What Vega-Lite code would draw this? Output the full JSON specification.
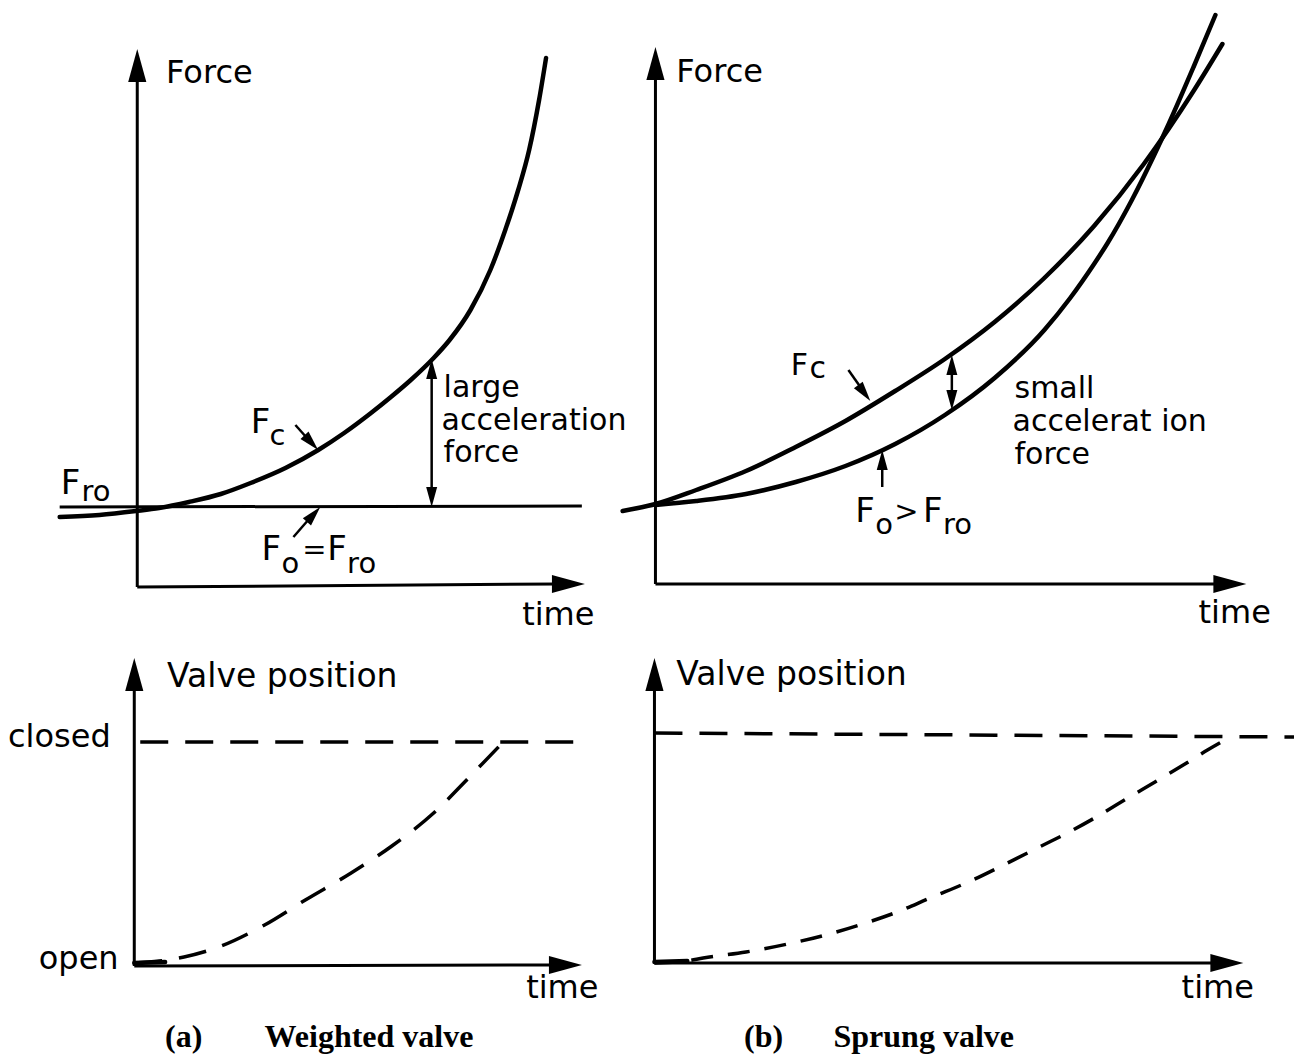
{
  "$schema": "https://vega.github.io/schema/vega-lite/v6.json",
  "width": 1301,
  "height": 1056,
  "autosize": {"type": "fit", "contains": "padding"},
  "padding": 0,
  "background": "white",
  "config": {"view": {"stroke": null}},
  "datasets": {
    "axes": [
      {"id": "ay1", "x": 138, "y": 62}, {"id": "ay1", "x": 138, "y": 587},
      {"id": "ax1", "x": 138, "y": 587}, {"id": "ax1", "x": 560, "y": 584},
      {"id": "by1", "x": 659, "y": 60}, {"id": "by1", "x": 659, "y": 584},
      {"id": "bx1", "x": 659, "y": 584}, {"id": "bx1", "x": 1225, "y": 584},
      {"id": "ay2", "x": 135, "y": 672}, {"id": "ay2", "x": 135, "y": 966},
      {"id": "ax2", "x": 135, "y": 966}, {"id": "ax2", "x": 560, "y": 965},
      {"id": "by2", "x": 658, "y": 672}, {"id": "by2", "x": 658, "y": 963},
      {"id": "bx2", "x": 658, "y": 963}, {"id": "bx2", "x": 1225, "y": 963},
      {"id": "fo", "x": 60, "y": 507}, {"id": "fo", "x": 585, "y": 506}
    ],
    "curves": [
      {"id": "fcA", "x": 60, "y": 517}, {"id": "fcA", "x": 100, "y": 515}, {"id": "fcA", "x": 137, "y": 511},
      {"id": "fcA", "x": 160, "y": 508}, {"id": "fcA", "x": 190, "y": 502}, {"id": "fcA", "x": 222, "y": 494},
      {"id": "fcA", "x": 252, "y": 483}, {"id": "fcA", "x": 287, "y": 468}, {"id": "fcA", "x": 320, "y": 450},
      {"id": "fcA", "x": 346, "y": 433}, {"id": "fcA", "x": 373, "y": 413}, {"id": "fcA", "x": 393, "y": 397},
      {"id": "fcA", "x": 413, "y": 380}, {"id": "fcA", "x": 436, "y": 358},
      {"id": "fcA", "x": 452, "y": 340}, {"id": "fcA", "x": 473, "y": 310}, {"id": "fcA", "x": 493, "y": 270},
      {"id": "fcA", "x": 508, "y": 230}, {"id": "fcA", "x": 521, "y": 190}, {"id": "fcA", "x": 532, "y": 150},
      {"id": "fcA", "x": 542, "y": 100}, {"id": "fcA", "x": 549, "y": 58},
      {"id": "fcB", "x": 626, "y": 511}, {"id": "fcB", "x": 659, "y": 504}, {"id": "fcB", "x": 700, "y": 490},
      {"id": "fcB", "x": 750, "y": 471}, {"id": "fcB", "x": 800, "y": 447}, {"id": "fcB", "x": 850, "y": 421},
      {"id": "fcB", "x": 900, "y": 391}, {"id": "fcB", "x": 950, "y": 359}, {"id": "fcB", "x": 1000, "y": 322},
      {"id": "fcB", "x": 1050, "y": 278}, {"id": "fcB", "x": 1100, "y": 226}, {"id": "fcB", "x": 1150, "y": 164},
      {"id": "fcB", "x": 1200, "y": 91}, {"id": "fcB", "x": 1229, "y": 44},
      {"id": "foB", "x": 659, "y": 505}, {"id": "foB", "x": 700, "y": 501}, {"id": "foB", "x": 750, "y": 494},
      {"id": "foB", "x": 800, "y": 482}, {"id": "foB", "x": 850, "y": 466}, {"id": "foB", "x": 900, "y": 444},
      {"id": "foB", "x": 950, "y": 415}, {"id": "foB", "x": 1000, "y": 378}, {"id": "foB", "x": 1050, "y": 330},
      {"id": "foB", "x": 1076, "y": 298}, {"id": "foB", "x": 1100, "y": 264}, {"id": "foB", "x": 1113, "y": 244},
      {"id": "foB", "x": 1138, "y": 200}, {"id": "foB", "x": 1160, "y": 156}, {"id": "foB", "x": 1175, "y": 124},
      {"id": "foB", "x": 1200, "y": 67}, {"id": "foB", "x": 1222, "y": 15},
      {"id": "oa", "x": 135, "y": 963}, {"id": "oa", "x": 166, "y": 962},
      {"id": "ob", "x": 658, "y": 962}, {"id": "ob", "x": 691, "y": 961}
    ],
    "thin": [
      {"id": "dA", "x": 434, "y": 372}, {"id": "dA", "x": 434, "y": 494},
      {"id": "dB", "x": 957, "y": 368}, {"id": "dB", "x": 957, "y": 398},
      {"id": "fcAa", "x": 297, "y": 425}, {"id": "fcAa", "x": 314, "y": 444},
      {"id": "foAa", "x": 295, "y": 537}, {"id": "foAa", "x": 316, "y": 513},
      {"id": "fcBa", "x": 853, "y": 370}, {"id": "fcBa", "x": 870, "y": 394},
      {"id": "foBa", "x": 887, "y": 487}, {"id": "foBa", "x": 887, "y": 458}
    ],
    "dashA": [
      {"id": "clA", "x": 141, "y": 742}, {"id": "clA", "x": 580, "y": 742},
      {"id": "clB", "x": 658, "y": 733}, {"id": "clB", "x": 1301, "y": 737},
      {"id": "cvA", "x": 135, "y": 963}, {"id": "cvA", "x": 160, "y": 961}, {"id": "cvA", "x": 185, "y": 957},
      {"id": "cvA", "x": 220, "y": 947}, {"id": "cvA", "x": 266, "y": 925}, {"id": "cvA", "x": 307, "y": 900},
      {"id": "cvA", "x": 353, "y": 873}, {"id": "cvA", "x": 394, "y": 846}, {"id": "cvA", "x": 436, "y": 813},
      {"id": "cvA", "x": 473, "y": 776}, {"id": "cvA", "x": 506, "y": 742}
    ],
    "dashB": [
      {"id": "cvB", "x": 658, "y": 963}, {"id": "cvB", "x": 690, "y": 961}, {"id": "cvB", "x": 707, "y": 958},
      {"id": "cvB", "x": 750, "y": 952}, {"id": "cvB", "x": 792, "y": 944}, {"id": "cvB", "x": 830, "y": 935},
      {"id": "cvB", "x": 864, "y": 925}, {"id": "cvB", "x": 902, "y": 912}, {"id": "cvB", "x": 935, "y": 898},
      {"id": "cvB", "x": 978, "y": 880}, {"id": "cvB", "x": 1011, "y": 864}, {"id": "cvB", "x": 1045, "y": 847},
      {"id": "cvB", "x": 1075, "y": 832}, {"id": "cvB", "x": 1104, "y": 816}, {"id": "cvB", "x": 1134, "y": 798},
      {"id": "cvB", "x": 1163, "y": 781}, {"id": "cvB", "x": 1193, "y": 763}, {"id": "cvB", "x": 1214, "y": 750},
      {"id": "cvB", "x": 1237, "y": 737}
    ],
    "bigUp": [
      {"x": 138, "y": 65.5}, {"x": 659, "y": 63.5}, {"x": 135, "y": 674.5}, {"x": 658, "y": 674.5}
    ],
    "bigRight": [
      {"x": 571.5, "y": 584}, {"x": 1236.5, "y": 584}, {"x": 568.5, "y": 965}, {"x": 1233.5, "y": 963}
    ],
    "smUp": [
      {"x": 434, "y": 369}, {"x": 957, "y": 365}, {"x": 887, "y": 460}
    ],
    "smDown": [
      {"x": 434, "y": 497}, {"x": 957, "y": 400}
    ],
    "fcAhead": [{"x": 313, "y": 442.6}],
    "foAhead": [{"x": 315.3, "y": 514.4}],
    "fcBhead": [{"x": 869, "y": 393}],
    "txtMain": [
      {"x": 167, "y": 83, "t": "Force"},
      {"x": 680, "y": 82, "t": "Force"},
      {"x": 525, "y": 625, "t": "time"},
      {"x": 1205, "y": 623, "t": "time"},
      {"x": 8, "y": 747, "t": "closed"},
      {"x": 39, "y": 969, "t": "open"},
      {"x": 529, "y": 998, "t": "time"},
      {"x": 1188, "y": 998, "t": "time"}
    ],
    "txtValve": [
      {"x": 168, "y": 687, "t": "Valve position"},
      {"x": 680, "y": 685, "t": "Valve position"}
    ],
    "txtNote": [
      {"x": 446, "y": 397, "t": "large"},
      {"x": 444, "y": 430, "t": "acceleration"},
      {"x": 446, "y": 462, "t": "force"},
      {"x": 1020, "y": 398, "t": "small"},
      {"x": 1018, "y": 431, "t": "accelerat ion"},
      {"x": 1020, "y": 464, "t": "force"},
      {"x": 795, "y": 375, "t": "F"},
      {"x": 814, "y": 378, "t": "c"}
    ],
    "txtF": [
      {"x": 61, "y": 494, "t": "F"},
      {"x": 252, "y": 433, "t": "F"},
      {"x": 263, "y": 560, "t": "F"},
      {"x": 329, "y": 560, "t": "F"},
      {"x": 860, "y": 522, "t": "F"},
      {"x": 928, "y": 522, "t": "F"}
    ],
    "txtSub": [
      {"x": 82, "y": 501, "t": "ro"},
      {"x": 271, "y": 445, "t": "c"},
      {"x": 283, "y": 573, "t": "o"},
      {"x": 304, "y": 559, "t": "="},
      {"x": 349, "y": 573, "t": "ro"},
      {"x": 880, "y": 534, "t": "o"},
      {"x": 899, "y": 521, "t": ">"},
      {"x": 948, "y": 534, "t": "ro"}
    ],
    "caption": [
      {"x": 166, "y": 1047, "t": "(a)"},
      {"x": 266, "y": 1047, "t": "Weighted valve"},
      {"x": 748, "y": 1047, "t": "(b)"},
      {"x": 838, "y": 1047, "t": "Sprung valve"}
    ]
  },
  "encoding": {
    "x": {"field": "x", "type": "quantitative", "scale": {"domain": [0, 1301], "nice": false, "zero": false}, "axis": null},
    "y": {"field": "y", "type": "quantitative", "scale": {"domain": [0, 1056], "reverse": true, "nice": false, "zero": false}, "axis": null}
  },
  "layer": [
    {
      "data": {"name": "axes"},
      "mark": {"type": "line", "color": "black", "strokeWidth": 3},
      "encoding": {"detail": {"field": "id"}, "order": {"value": null}}
    },
    {
      "data": {"name": "curves"},
      "mark": {"type": "line", "color": "black", "strokeWidth": 4.5, "interpolate": "monotone", "strokeCap": "round"},
      "encoding": {"detail": {"field": "id"}, "order": {"value": null}}
    },
    {
      "data": {"name": "thin"},
      "mark": {"type": "line", "color": "black", "strokeWidth": 2.5},
      "encoding": {"detail": {"field": "id"}, "order": {"value": null}}
    },
    {
      "data": {"name": "dashA"},
      "mark": {"type": "line", "color": "black", "strokeWidth": 3.5, "strokeDash": [28, 17], "interpolate": "monotone"},
      "encoding": {"detail": {"field": "id"}, "order": {"value": null}}
    },
    {
      "data": {"name": "dashB"},
      "mark": {"type": "line", "color": "black", "strokeWidth": 3.5, "strokeDash": [22, 15], "interpolate": "monotone"},
      "encoding": {"detail": {"field": "id"}, "order": {"value": null}}
    },
    {
      "data": {"name": "bigUp"},
      "mark": {"type": "point", "shape": "M0,-1L0.55,1L-0.55,1Z", "size": 1089, "filled": true, "color": "black", "opacity": 1, "angle": 0}
    },
    {
      "data": {"name": "bigRight"},
      "mark": {"type": "point", "shape": "M0,-1L0.55,1L-0.55,1Z", "size": 1089, "filled": true, "color": "black", "opacity": 1, "angle": 90}
    },
    {
      "data": {"name": "smUp"},
      "mark": {"type": "point", "shape": "M0,-1L0.55,1L-0.55,1Z", "size": 400, "filled": true, "color": "black", "opacity": 1, "angle": 0}
    },
    {
      "data": {"name": "smDown"},
      "mark": {"type": "point", "shape": "M0,-1L0.55,1L-0.55,1Z", "size": 400, "filled": true, "color": "black", "opacity": 1, "angle": 180}
    },
    {
      "data": {"name": "fcAhead"},
      "mark": {"type": "point", "shape": "M0,-1L0.55,1L-0.55,1Z", "size": 400, "filled": true, "color": "black", "opacity": 1, "angle": 137}
    },
    {
      "data": {"name": "foAhead"},
      "mark": {"type": "point", "shape": "M0,-1L0.55,1L-0.55,1Z", "size": 400, "filled": true, "color": "black", "opacity": 1, "angle": 42}
    },
    {
      "data": {"name": "fcBhead"},
      "mark": {"type": "point", "shape": "M0,-1L0.55,1L-0.55,1Z", "size": 400, "filled": true, "color": "black", "opacity": 1, "angle": 143}
    },
    {
      "data": {"name": "txtMain"},
      "mark": {"type": "text", "font": "DejaVu Sans", "fontSize": 32, "align": "left", "baseline": "alphabetic", "color": "black"},
      "encoding": {"text": {"field": "t"}}
    },
    {
      "data": {"name": "txtValve"},
      "mark": {"type": "text", "font": "DejaVu Sans", "fontSize": 33, "align": "left", "baseline": "alphabetic", "color": "black"},
      "encoding": {"text": {"field": "t"}}
    },
    {
      "data": {"name": "txtNote"},
      "mark": {"type": "text", "font": "DejaVu Sans", "fontSize": 30, "align": "left", "baseline": "alphabetic", "color": "black"},
      "encoding": {"text": {"field": "t"}}
    },
    {
      "data": {"name": "txtF"},
      "mark": {"type": "text", "font": "DejaVu Sans", "fontSize": 34, "align": "left", "baseline": "alphabetic", "color": "black"},
      "encoding": {"text": {"field": "t"}}
    },
    {
      "data": {"name": "txtSub"},
      "mark": {"type": "text", "font": "DejaVu Sans", "fontSize": 29, "align": "left", "baseline": "alphabetic", "color": "black"},
      "encoding": {"text": {"field": "t"}}
    },
    {
      "data": {"name": "caption"},
      "mark": {"type": "text", "font": "Liberation Serif", "fontSize": 32, "fontWeight": "bold", "align": "left", "baseline": "alphabetic", "color": "black"},
      "encoding": {"text": {"field": "t"}}
    }
  ]
}
